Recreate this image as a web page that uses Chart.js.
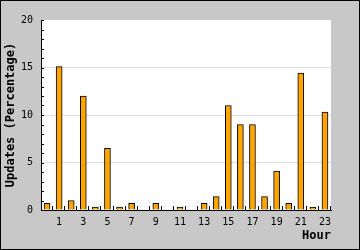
<!DOCTYPE html>
<html>
<head>
<meta charset="utf-8">
<script src="https://cdn.jsdelivr.net/npm/chart.js@4"></script>
<style>
html,body{margin:0;padding:0;background:#c8c8c8;}
canvas{display:block;}
</style>
</head>
<body>
<canvas id="c" width="360" height="250"></canvas>
<script>
const hours = ['0','1','2','3','4','5','6','7','8','9','10','11','12','13','14','15','16','17','18','19','20','21','22','23'];
const updates = [0.7,15.1,1.0,12.0,0.3,6.5,0.3,0.7,0,0.7,0,0.3,0,0.7,1.4,11.0,9.0,9.0,1.4,4.1,0.7,14.4,0.3,10.3];
const yMin = 0, yMax = 20, yMajorStep = 5, yMinorStep = 1;
const xTitle = 'Hour';
const yTitle = 'Updates (Percentage)';

const frame = {
  id: 'frame',
  beforeDraw(chart) {
    const ctx = chart.ctx, a = chart.chartArea;
    ctx.save();
    ctx.fillStyle = '#c8c8c8';
    ctx.fillRect(0, 0, chart.width, chart.height);
    ctx.fillStyle = '#ffffff';
    ctx.fillRect(a.left, a.top, a.right - a.left, a.bottom - a.top);
    ctx.strokeStyle = '#000';
    ctx.lineWidth = 1;
    ctx.strokeRect(0.5, 0.5, chart.width - 1, chart.height - 1);
    ctx.restore();
  },
  afterDatasetsDraw(chart) {
    const ctx = chart.ctx, a = chart.chartArea;
    const xs = chart.scales.x, ys = chart.scales.y;
    ctx.save();
    ctx.strokeStyle = '#000';
    ctx.lineWidth = 1;
    ctx.beginPath();
    for (let v = yMin; v <= yMax; v += yMinorStep) {
      const y = Math.round(ys.getPixelForValue(v)) + 0.5;
      ctx.moveTo(a.left, y);
      ctx.lineTo(a.left + 3, y);
    }
    const n = hours.length;
    const w = (xs.getPixelForValue(1) - xs.getPixelForValue(0));
    for (let i = 1; i <= n; i++) {
      const x = Math.round(xs.getPixelForValue(i - 1) + w / 2) - 0.5;
      ctx.moveTo(x, a.bottom);
      ctx.lineTo(x, a.bottom - 4);
    }
    ctx.stroke();
    ctx.restore();
  }
};

new Chart(document.getElementById('c'), {
  type: 'bar',
  data: {
    labels: hours,
    datasets: [{
      data: updates,
      backgroundColor: '#ffa500',
      borderColor: '#000000',
      borderWidth: 1,
      borderSkipped: 'bottom',
      barThickness: 6
    }]
  },
  options: {
    responsive: false,
    animation: false,
    devicePixelRatio: 1,
    layout: { padding: { top: 20, right: 29, left: 0, bottom: 0 } },
    plugins: { legend: { display: false }, tooltip: { enabled: false } },
    scales: {
      x: {
        grid: { display: false, drawTicks: false },
        border: { display: true, color: '#000', width: 1 },
        ticks: {
          autoSkip: false, maxRotation: 0, minRotation: 0, padding: 6,
          color: '#000',
          font: { family: 'DejaVu Sans Mono', size: 10 },
          callback: (v, i) => (i % 2 === 1 ? hours[i] : '')
        },
        title: {
          display: true, text: xTitle, align: 'end', color: '#000',
          font: { family: 'DejaVu Sans Mono', size: 12, weight: 'bold' },
          padding: { top: 0, bottom: 7 }
        },
        afterFit(s) { s.height = 40; }
      },
      y: {
        min: yMin, max: yMax,
        grid: {
          drawTicks: false,
          color: (c) => (c.tick && (c.tick.value === yMin || c.tick.value === yMax) ? 'rgba(0,0,0,0)' : '#dcdcdc')
        },
        border: { display: true, color: '#000', width: 1 },
        ticks: {
          stepSize: yMajorStep, padding: 8, color: '#000',
          font: { family: 'DejaVu Sans Mono', size: 10 }
        },
        title: {
          display: true, text: yTitle, color: '#000',
          font: { family: 'DejaVu Sans Mono', size: 12, weight: 'bold' },
          padding: { top: 4, bottom: 0 }
        },
        afterFit(s) { s.width = 41; }
      }
    }
  },
  plugins: [frame]
});
</script>
</body>
</html>
